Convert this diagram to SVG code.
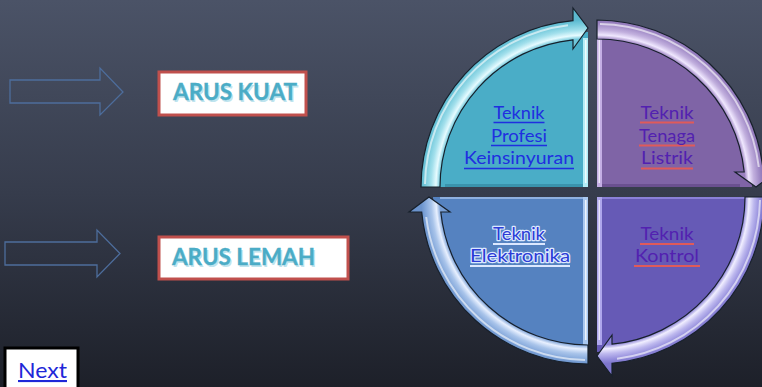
<svg xmlns="http://www.w3.org/2000/svg" xmlns:xlink="http://www.w3.org/1999/xlink" width="762" height="387" viewBox="0 0 762 387">
<style>
.blockarrow{fill:none;stroke:#4d6d9c;stroke-width:1.3}
.box{fill:#ffffff;stroke:#c0504d;stroke-width:3}
.arus{font-family:Lato,"Open Sans",sans-serif;font-weight:bold;font-size:23px;fill:#4bacc6;stroke:#4bacc6;stroke-width:0.3}
.arus-sh{font-family:Lato,"Open Sans",sans-serif;font-weight:bold;font-size:23px;fill:#bfe4ee}
.lbl{font-family:Lato,"Open Sans",sans-serif;font-size:18px;text-anchor:middle}
.tl{fill:#1f2fe0}
.pur{fill:#5221b0}
.bl{fill:#2b3cd6;stroke:#dce8ff;stroke-width:2.4;paint-order:stroke;stroke-linejoin:round}
.band{stroke:#17202b;stroke-width:1.2}
.gloss{fill:none;stroke:#ffffff;stroke-width:2;stroke-opacity:0.6}
</style>
<defs>
<linearGradient id="bg" x1="0" y1="0" x2="0" y2="1">
<stop offset="0" stop-color="#4b5367"/>
<stop offset="0.5" stop-color="#363c4c"/>
<stop offset="1" stop-color="#1d2029"/>
</linearGradient>
<radialGradient id="gTeal" gradientUnits="userSpaceOnUse" cx="0" cy="0" r="167">
<stop offset="0.886" stop-color="#6fc6d9"/>
<stop offset="0.91" stop-color="#e6fbff"/>
<stop offset="0.94" stop-color="#a3e0ec"/>
<stop offset="0.975" stop-color="#76cadc"/>
<stop offset="1" stop-color="#5cb9d0"/>
</radialGradient>
<radialGradient id="gPurple" gradientUnits="userSpaceOnUse" cx="0" cy="0" r="167">
<stop offset="0.886" stop-color="#9a80c0"/>
<stop offset="0.91" stop-color="#f0e8ff"/>
<stop offset="0.94" stop-color="#c2b0de"/>
<stop offset="0.975" stop-color="#a08ac6"/>
<stop offset="1" stop-color="#8d74b6"/>
</radialGradient>
<radialGradient id="gBlue" gradientUnits="userSpaceOnUse" cx="0" cy="0" r="167">
<stop offset="0.886" stop-color="#7aa0d6"/>
<stop offset="0.91" stop-color="#e8f0ff"/>
<stop offset="0.94" stop-color="#a9c4ea"/>
<stop offset="0.975" stop-color="#83a7da"/>
<stop offset="1" stop-color="#6b93cc"/>
</radialGradient>
<radialGradient id="gViolet" gradientUnits="userSpaceOnUse" cx="0" cy="0" r="167">
<stop offset="0.886" stop-color="#8a82d4"/>
<stop offset="0.91" stop-color="#f0eeff"/>
<stop offset="0.94" stop-color="#bdb8ee"/>
<stop offset="0.975" stop-color="#948ddc"/>
<stop offset="1" stop-color="#7d75cc"/>
</radialGradient>
<path id="band" class="band" d="M-148,0 L-167,0 A167,167 0 0 1 -15,-166.3 L-15,-179 L0,-159 L-15,-138 L-15,-147.2 A148,148 0 0 0 -148,0 Z"/>
<path id="gl" class="gloss" d="M-163,-3 A163,163 0 0 1 -20,-161.8"/>
</defs>
<rect x="0" y="0" width="762" height="387" fill="url(#bg)"/>

<g id="node-arus-kuat">
<rect class="box" x="159" y="72" width="147" height="43"/>
<text class="arus-sh" x="174.5" y="101.5" textLength="124" lengthAdjust="spacingAndGlyphs">ARUS KUAT</text>
<text class="arus" x="173" y="100" textLength="124" lengthAdjust="spacingAndGlyphs">ARUS KUAT</text>
</g>
<g id="node-arus-lemah">
<rect class="box" x="159" y="237" width="189" height="42"/>
<text class="arus-sh" x="173.5" y="266.5" textLength="143" lengthAdjust="spacingAndGlyphs">ARUS LEMAH</text>
<text class="arus" x="172" y="265" textLength="143" lengthAdjust="spacingAndGlyphs">ARUS LEMAH</text>
</g>

<g id="node-teknik-profesi">
<path fill="#4aadc7" d="M588,187 L433,187 A155,155 0 0 1 588,32 Z"/>
<rect x="583" y="38" width="5" height="149" fill="#b3ecf6"/>
<rect x="585" y="40" width="1.5" height="143" fill="#ffffff" opacity="0.8"/>
<rect x="445" y="184" width="138" height="3" fill="#3a93ad"/>
<text class="lbl tl" x="519" y="119" textLength="51" lengthAdjust="spacingAndGlyphs">Teknik</text>
<text class="lbl tl" x="519" y="142" textLength="56" lengthAdjust="spacingAndGlyphs">Profesi</text>
<text class="lbl tl" x="519" y="164" textLength="110" lengthAdjust="spacingAndGlyphs">Keinsinyuran</text>
<g stroke="#1f2fe0" stroke-width="1.5">
<line x1="493.5" y1="122.5" x2="544.5" y2="122.5"/>
<line x1="491" y1="145.5" x2="547" y2="145.5"/>
<line x1="464" y1="168.5" x2="574" y2="168.5"/>
</g>
</g>

<g id="node-teknik-tenaga">
<path fill="#7f64a6" d="M597,187 L597,32 A155,155 0 0 1 752,187 Z"/>
<rect x="597" y="38" width="5" height="149" fill="#c4aee4"/>
<rect x="598.5" y="40" width="1.5" height="143" fill="#ffffff" opacity="0.7"/>
<rect x="602" y="184" width="138" height="3" fill="#6a5090"/>
<g stroke="#e05a5a" stroke-width="2">
<line x1="640" y1="122.5" x2="694" y2="122.5"/>
<line x1="639" y1="145.5" x2="695" y2="145.5"/>
<line x1="641" y1="168.5" x2="693" y2="168.5"/>
</g>
<text class="lbl pur" x="667" y="119" textLength="53" lengthAdjust="spacingAndGlyphs">Teknik</text>
<text class="lbl pur" x="667" y="142" textLength="56" lengthAdjust="spacingAndGlyphs">Tenaga</text>
<text class="lbl pur" x="667" y="164" textLength="52" lengthAdjust="spacingAndGlyphs">Listrik</text>
</g>

<g id="node-teknik-elektronika">
<path fill="#5582c0" d="M588,197 L588,352 A155,155 0 0 1 433,197 Z"/>
<rect x="583" y="197" width="5" height="148" fill="#aac8f0"/>
<rect x="585" y="200" width="1.5" height="140" fill="#ffffff" opacity="0.8"/>
<rect x="440" y="197" width="143" height="2" fill="#8fb0e0"/>
<g stroke="#dce8ff" stroke-width="2">
<line x1="493" y1="244" x2="545" y2="244"/>
<line x1="470" y1="266" x2="570" y2="266"/>
</g>
<text class="lbl bl" x="519" y="240" textLength="52" lengthAdjust="spacingAndGlyphs">Teknik</text>
<text class="lbl bl" x="520" y="262" textLength="100" lengthAdjust="spacingAndGlyphs">Elektronika</text>
</g>

<g id="node-teknik-kontrol">
<path fill="#665ab6" d="M597,197 L752,197 A155,155 0 0 1 597,352 Z"/>
<rect x="597" y="197" width="5" height="148" fill="#aea6ec"/>
<rect x="598.5" y="200" width="1.5" height="140" fill="#ffffff" opacity="0.7"/>
<rect x="602" y="197" width="143" height="2" fill="#8a80d8"/>
<g stroke="#e05a5a" stroke-width="2">
<line x1="640" y1="244" x2="694" y2="244"/>
<line x1="634" y1="266" x2="700" y2="266"/>
</g>
<text class="lbl pur" x="667" y="240" textLength="53" lengthAdjust="spacingAndGlyphs">Teknik</text>
<text class="lbl pur" x="667" y="262" textLength="64" lengthAdjust="spacingAndGlyphs">Kontrol</text>
</g>

<g id="connectors">
<path class="blockarrow" d="M10,80 L100,80 L100,68 L123,92 L100,115 L100,103 L10,103 Z"/>
<path class="blockarrow" d="M5,242 L97,242 L97,230 L120,253.5 L97,277 L97,265 L5,265 Z"/>
<g transform="translate(588,187)"><use xlink:href="#band" fill="url(#gTeal)"/><use xlink:href="#gl"/></g>
<g transform="translate(597,187) rotate(90)"><use xlink:href="#band" fill="url(#gPurple)"/><use xlink:href="#gl"/></g>
<g transform="translate(597,197) rotate(180)"><use xlink:href="#band" fill="url(#gViolet)"/><use xlink:href="#gl"/></g>
<g transform="translate(588,197) rotate(270)"><use xlink:href="#band" fill="url(#gBlue)"/><use xlink:href="#gl"/></g>
</g>

<g id="node-next">
<rect x="5" y="348" width="73" height="45" fill="#ffffff" stroke="#000000" stroke-width="3"/>
<text x="18" y="378" font-family="Lato,'Open Sans',sans-serif" font-size="21" fill="#1f28d8" text-decoration="underline" textLength="49" lengthAdjust="spacingAndGlyphs">Next</text>
</g>
</svg>
